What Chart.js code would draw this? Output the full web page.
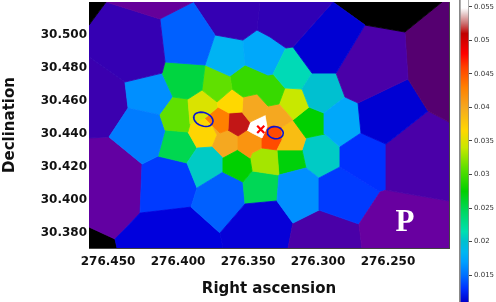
<!DOCTYPE html>
<html><head><meta charset="utf-8">
<script src="https://cdn.jsdelivr.net/npm/chart.js@4"></script>
<style>html,body{margin:0;padding:0;background:#fff;width:496px;height:302px;overflow:hidden}
#wrapA{position:absolute;left:0;top:0;width:455px;height:302px}
#wrapB{position:absolute;left:455px;top:0;width:41px;height:302px}</style>
</head><body>
<div id="wrapA"><canvas id="map"></canvas></div>
<div id="wrapB"><canvas id="bar"></canvas></div>
<script>
const vertexRA=[276.4636,276.4514,276.4129,276.3893,276.4093,276.4379,276.4636,276.3736,276.3807,276.3536,
276.3436,276.3414,276.3343,276.3179,276.2893,276.3229,276.2664,276.2871,276.2379,276.2114,
276.2357,276.2714,276.2807,276.2064,276.2064,276.2214,276.2514,276.2693,276.2064,276.2514,
276.2064,276.2686,276.2707,276.2557,276.2843,276.2843,276.2993,276.2993,276.2957,276.2950,
276.3043,276.3064,276.3114,276.3236,276.3321,276.3357,276.3521,276.3629,276.3829,276.3929,
276.4036,276.4114,276.3721,276.3614,276.3536,276.3436,276.3357,276.3279,276.3179,276.3714,
276.3807,276.3914,276.3636,276.3543,276.3643,276.3700,276.3757,276.3486,276.3379,276.3507,
276.3571,276.3364,276.3400,276.3471,276.3321,276.3257,276.3257,276.3293,276.3400,276.3086,
276.3114,276.3086,276.3279,276.3293,276.3179,276.3214,276.3679,276.3700,276.3521,276.3536,
276.3471,276.3486,276.3471,276.3571,276.3679,276.3757,276.3721,276.3864,276.3929,276.4093,
276.4129,276.4357,276.3936,276.4143,276.4257,276.4493,276.4636,276.4271,276.4450,276.4636,
276.4436,276.4636,276.4636,276.3864,276.3907,276.3679];
const vertexDec=[30.5042,30.5182,30.5079,30.5182,30.4818,30.4697,30.4848,30.4982,30.4800,30.4951,
30.5012,30.5182,30.4970,30.4909,30.5182,30.4903,30.5042,30.4751,30.5000,30.5182,
30.4715,30.4570,30.4606,30.5182,30.4454,30.4521,30.4321,30.4388,30.3976,30.4042,
30.3691,30.3691,30.3836,30.4030,30.4182,30.4303,30.4115,30.3921,30.4509,30.4382,
30.4751,30.4545,30.4654,30.4661,30.4745,30.4739,30.4800,30.4733,30.4648,30.4594,
30.4606,30.4751,30.4576,30.4654,30.4606,30.4624,30.4551,30.4564,30.4467,30.4545,
30.4479,30.4442,30.4509,30.4515,30.4406,30.4388,30.4436,30.4454,30.4497,30.4406,
30.4370,30.4424,30.4358,30.4388,30.4436,30.4424,30.4345,30.4285,30.4297,30.4358,
30.4285,30.4176,30.4133,30.3976,30.3842,30.3691,30.3691,30.3782,30.3958,30.4091,
30.4158,30.4236,30.4267,30.4285,30.4236,30.4303,30.4376,30.4297,30.4394,30.4406,
30.4497,30.4539,30.4206,30.4248,30.4200,30.4364,30.4358,30.3903,30.3745,30.3818,
30.3691,30.3691,30.5182,30.4055,30.3939,30.4151];
const cellVertices=[[112,1,0],[1,3,2],[1,2,4,51,5,6,0],[2,3,7,8,4],[3,11,10,9,7],[11,14,13,15,12,10],[14,16,17,40,13],[14,19,18,16],[16,18,20,21,22,17],[18,19,23,24,25,20],[21,20,25,26,27],[25,24,28,29,26],[33,29,28,30,31,32],[27,26,29,33,34,35],[36,34,33,32,37],[82,81,36,37,84,83],[84,37,32,31,85],[88,83,84,85,86,87],[38,22,21,27,35,39],[40,17,22,38,41,42],[15,13,40,42,43,44],[9,10,12,15,44,45,46],[7,9,46,47,8],[4,8,48,49,50,51],[8,47,53,52,48],[47,46,45,44,43,57,56,55,54,53],[52,53,54,63,62,59],[49,48,52,59,60,61],[50,49,61,98,99,100],[59,62,64,65,66,60],[54,55,56,68,67,63],[62,63,67,69,70,64],[67,68,71,72,73,69],[56,57,58,75,74,71,68],[57,43,42,41,58],[58,41,38,39,79],[58,79,80,77,76,75],[71,74,75,76,77,78,72],[70,69,73,72,78,92,91,93],[94,93,91,90,89,115],[92,78,77,82,90,91],[77,80,81,82],[90,82,83,88,89],[39,35,34,36,81,80,79],[101,100,99,103,104,105],[5,51,50,100,101],[113,115,89,88,87,114],[107,114,87,86,110,108],[102,97,95,94,115,113],[66,65,64,70,93,94,95,96],[61,60,66,96,95,97,98],[99,98,97,102,103],[104,103,102,113,114,107],[6,5,101,105,106],[106,105,104,107,108,109],[109,108,110,111]];
const cellValues=[0.003,0.0058,0.0085,0.0145,0.0085,0.0087,0.0108,0.003,0.0075,0.0045,0.0108,0.0075,0.006,0.013,0.0133,0.0163,0.0075,0.0103,0.0175,0.02,0.0212,0.0175,0.0182,0.0255,0.031,0.0295,0.0365,0.0348,0.031,0.043,0.04,0.0513,0.056,0.04,0.034,0.0275,0.0385,0.0455,0.0415,0.0275,0.033,0.0272,0.0248,0.0205,0.0155,0.0163,0.0145,0.0105,0.0205,0.04,0.0367,0.025,0.0133,0.0082,0.0063,0.003];
const cmapValues=[0.0035,0.0045,0.006,0.0075,0.009,0.0105,0.011,0.013,0.015,0.017,0.0185,0.02,0.0215,0.0245,0.0275,0.031,0.034,0.0365,0.04,0.043,0.046,0.048,0.051,0.0525,0.054,0.0548,0.056];
const cmapColors=['#000000','#550070','#6800a0','#4a00a8','#2a00b8','#0000dd','#0000cc','#0030ff','#0070ff','#00a0ff','#00b8f0','#00c0d0','#00e0b0','#00d860','#00d000','#60e000','#c8e800','#ffd800','#f5a820','#ff8000','#ff4000','#ff0000','#c00000','#cc7070','#e8d0d0','#ffffff','#ffffff'];
const xMajor=[276.45,276.40,276.35,276.30,276.25];
const xMinor=[276.46,276.44,276.43,276.42,276.41,276.39,276.38,276.37,276.36,276.34,276.33,276.32,276.31,276.29,276.28,276.27,276.26,276.24,276.23,276.22,276.21];
const yMajor=[30.38,30.40,30.42,30.44,30.46,30.48,30.50];
const yMinor=[30.37,30.375,30.385,30.39,30.395,30.405,30.41,30.415,30.425,30.43,30.435,30.445,30.45,30.455,30.465,30.47,30.475,30.485,30.49,30.495,30.505,30.51,30.515];
const barTicks=[0.015,0.02,0.025,0.03,0.035,0.04,0.045,0.05,0.055];
const crossRA=[276.3409], crossDec=[30.4410];
const regionRA=[276.3819,276.3305], regionDec=[30.4471,30.4390];
const labelText='P', labelRA=276.2379, labelDec=30.3842;
const xRange=[276.2064,276.4636], yRange=[30.3691,30.5182], barRange=[0.011,0.056];

function hex(c){return [1,3,5].map(i=>parseInt(c.substr(i,2),16));}
function colorOf(v){
  if(v<=cmapValues[0])return cmapColors[0];
  for(let i=1;i<cmapValues.length;i++){
    if(v<=cmapValues[i]){
      const t=(v-cmapValues[i-1])/(cmapValues[i]-cmapValues[i-1]);
      const a=hex(cmapColors[i-1]),b=hex(cmapColors[i]);
      return 'rgb('+a.map((x,k)=>Math.round(x+(b[k]-x)*t)).join(',')+')';
    }
  }
  return cmapColors[cmapColors.length-1];
}
const cellSets=cellVertices.map((ids,i)=>{
  const pts=ids.map(k=>({x:vertexRA[k],y:vertexDec[k]}));
  pts.push(pts[0]);
  const col=colorOf(cellValues[i]);
  return {type:'scatter',data:pts,showLine:true,tension:0,pointRadius:0,fill:false,backgroundColor:col,borderColor:col,borderWidth:0.8,order:10,label:'cell'};
});
function ringPoints(ra,dec,a,b,ang){
  const s=[];
  for(let d=0;d<=360;d+=15){
    const t=d*Math.PI/180,u=a*Math.cos(t),v=b*Math.sin(t);
    s.push({x:ra-(u*Math.cos(ang)-v*Math.sin(ang))/1400,y:dec-(u*Math.sin(ang)+v*Math.cos(ang))/1650});
  }
  return s;
}
const ringStyle={type:'scatter',showLine:true,tension:0,pointRadius:0,fill:false,borderColor:'#0a14d2',borderWidth:1.6,order:2,label:'region'};
const rings=[
  Object.assign({data:ringPoints(regionRA[0],regionDec[0],10,6.7,0.35)},ringStyle),
  Object.assign({data:ringPoints(regionRA[1],regionDec[1],8,6,0.17)},ringStyle)];
const crossSet={type:'scatter',label:'peak',data:crossRA.map((x,i)=>({x,y:crossDec[i]})),pointStyle:'crossRot',pointRadius:5,borderColor:'#ff0000',borderWidth:2.2,order:1};

const fillCells={id:'fillCells',beforeDatasetDraw(chart,args){
  const ds=chart.data.datasets[args.index];
  if(ds.label!=='cell')return;
  const ctx=chart.ctx,a=chart.chartArea;
  ctx.save();ctx.beginPath();ctx.rect(a.left,a.top,a.width,a.height);ctx.clip();
  ctx.beginPath();args.meta.dataset.path(ctx);ctx.closePath();
  ctx.fillStyle=ds.backgroundColor;ctx.fill();ctx.restore();
},afterDatasetsDraw(chart){
  const ctx=chart.ctx,x=chart.scales.x,y=chart.scales.y;
  ctx.save();ctx.fillStyle='#fff';ctx.font='bold 31px "Liberation Serif"';ctx.textAlign='center';ctx.textBaseline='middle';
  ctx.fillText(labelText,x.getPixelForValue(labelRA),y.getPixelForValue(labelDec));ctx.restore();
}};
const tickFont={family:'"DejaVu Sans"',size:12,weight:'bold'};
const titleFont={family:'"DejaVu Sans"',size:15,weight:'bold'};
const borderOpt={color:'#444',width:1};
function fitTo(prop,size){return s=>{s[prop]=size;s.paddingLeft=s.paddingRight=s.paddingTop=s.paddingBottom=0;};}
function markAxis(horizontal,position,list,len,extra){
  const range=horizontal?xRange:yRange;
  return Object.assign({type:'linear',reverse:horizontal,min:range[0],max:range[1],position,border:borderOpt,weight:len<5?-1:0,
    grid:{drawOnChartArea:false,tickLength:-len,tickColor:'#333',tickWidth:1},
    afterBuildTicks:s=>{s.ticks=list.map(value=>({value}));},
    afterFit:fitTo(horizontal?'height':'width',0),
    ticks:{display:false,autoSkip:false}},extra||{});
}
new Chart(document.getElementById('map'),{
  type:'scatter',
  data:{datasets:[...cellSets,...rings,crossSet]},
  plugins:[fillCells],
  options:{responsive:true,maintainAspectRatio:false,animation:false,
    layout:{autoPadding:false,padding:{top:2,right:6,left:0,bottom:0}},
    plugins:{legend:{display:false},tooltip:{enabled:false}},
    scales:{
      x:markAxis(true,'bottom',xMajor,5,{afterFit:fitTo('height',54),
        ticks:{autoSkip:false,maxRotation:0,padding:12,color:'#111',font:tickFont,callback:v=>v.toFixed(3)},
        title:{display:true,text:'Right ascension',color:'#111',font:titleFont,padding:{top:0,bottom:4}}}),
      y:markAxis(false,'left',yMajor,5,{afterFit:fitTo('width',89),
        ticks:{autoSkip:false,padding:7,labelOffset:3,color:'#111',font:tickFont,callback:v=>v.toFixed(3)},
        title:{display:true,text:'Declination',color:'#111',font:titleFont,padding:{top:1,bottom:0}}}),
      xMinorBottom:markAxis(true,'bottom',xMinor,3),
      yMinorLeft:markAxis(false,'left',yMinor,3),
      xTop:markAxis(true,'top',xMajor,5),
      xMinorTop:markAxis(true,'top',xMinor,3),
      yRight:markAxis(false,'right',yMajor,5),
      yMinorRight:markAxis(false,'right',yMinor,3)
    }}
});
new Chart(document.getElementById('bar'),{
  type:'bar',
  data:{labels:['scale'],datasets:[{data:[[barRange[0],barRange[1]]],barPercentage:1,categoryPercentage:1,
    borderColor:'#888',borderWidth:{left:2,right:1,top:0,bottom:0},borderSkipped:false,
    backgroundColor(c){
      const a=c.chart.chartArea;if(!a)return '#fff';
      const y=c.chart.scales.y,g=c.chart.ctx.createLinearGradient(0,a.bottom,0,a.top),h=a.bottom-a.top;
      cmapValues.forEach((v,i)=>{if(v>=barRange[0])g.addColorStop(Math.min(1,(a.bottom-y.getPixelForValue(v))/h),cmapColors[i]);});
      return g;
    }}]},
  options:{responsive:true,maintainAspectRatio:false,animation:false,
    layout:{autoPadding:false,padding:{left:4,right:0,top:0,bottom:0}},
    plugins:{legend:{display:false},tooltip:{enabled:false}},
    scales:{
      x:{display:false},
      y:{type:'linear',position:'right',min:barRange[0],max:barRange[1],border:{display:false},
        grid:{drawOnChartArea:false,tickLength:3,tickColor:'#444',tickWidth:1},
        afterBuildTicks:s=>{s.ticks=barTicks.map(value=>({value}));},afterFit:fitTo('width',27),
        ticks:{autoSkip:false,padding:2,color:'#333',font:{family:'"DejaVu Sans"',size:7},callback:v=>String(v)}}
    }}
});
</script>
</body></html>
